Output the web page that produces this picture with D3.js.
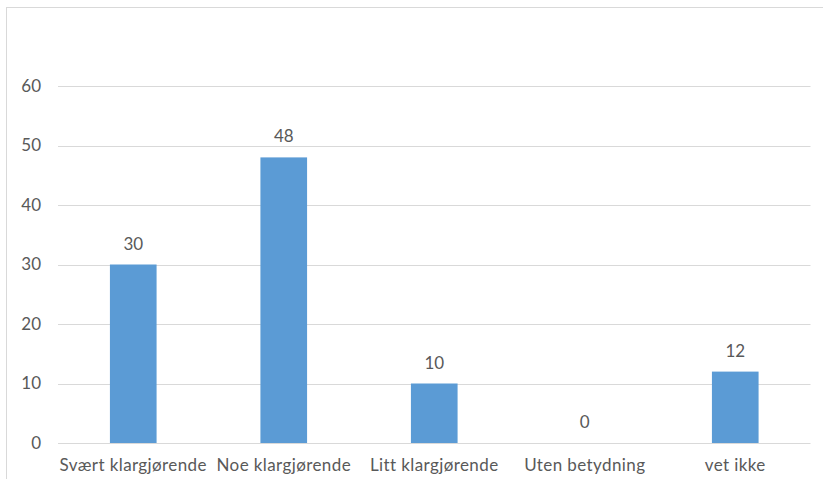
<!DOCTYPE html>
<html>
<head>
<meta charset="utf-8">
<script src="https://cdn.jsdelivr.net/npm/d3@7"></script>
<style>
  html, body { margin: 0; padding: 0; background: #fff; }
  svg { display: block; }
  text { font-family: Lato, "Open Sans", sans-serif; fill: #595959; }
</style>
</head>
<body>
<script>
// Answer categories and counts
const categories = ["Svært klargjørende", "Noe klargjørende", "Litt klargjørende", "Uten betydning", "vet ikke"];
const values = [30, 48, 10, 0, 12];
const yTicks = [0, 10, 20, 30, 40, 50, 60];

const W = 823, H = 479;
const margin = { left: 58, right: 12.5, top: 86, bottom: 36 };

const svg = d3.select("body").append("svg")
  .attr("width", W).attr("height", H);

// Chart frame
svg.append("rect")
  .attr("x", 6.5).attr("y", 7.5)
  .attr("width", W).attr("height", H)
  .attr("fill", "none").attr("stroke", "#d9d9d9").attr("stroke-width", 1);

const x = d3.scaleBand()
  .domain(categories)
  .range([margin.left, W - margin.right])
  .paddingInner(0.69).paddingOuter(0.345);

const y = d3.scaleLinear()
  .domain([0, 60])
  .range([H - margin.bottom, margin.top]);

// Horizontal gridlines
svg.append("g")
  .selectAll("line")
  .data(yTicks)
  .join("line")
  .attr("x1", margin.left).attr("x2", W - margin.right)
  .attr("y1", d => Math.round(y(d)) + 0.5).attr("y2", d => Math.round(y(d)) + 0.5)
  .attr("stroke", "#d9d9d9").attr("stroke-width", 1);

// Y axis labels
const yAxis = d3.axisLeft(y).tickValues(yTicks).tickSize(0).tickPadding(0);
const yg = svg.append("g")
  .attr("transform", `translate(${margin.left - 17},0)`)
  .call(yAxis);
yg.select(".domain").remove();
yg.selectAll("text")
  .attr("font-size", 17).attr("font-family", "Lato, sans-serif").attr("fill", "#595959");

// Bars
svg.append("g")
  .selectAll("rect")
  .data(values)
  .join("rect")
  .attr("x", (d, i) => x(categories[i]))
  .attr("width", x.bandwidth())
  .attr("y", d => y(d))
  .attr("height", d => y(0) - y(d))
  .attr("fill", "#5b9bd5");

// Value labels
svg.append("g")
  .selectAll("text")
  .data(values)
  .join("text")
  .attr("x", (d, i) => x(categories[i]) + x.bandwidth() / 2)
  .attr("y", d => y(d) - 15)
  .attr("text-anchor", "middle")
  .attr("font-size", 17)
  .text(d => d);

// X axis labels
const xAxis = d3.axisBottom(x).tickSize(0).tickPadding(0);
const xg = svg.append("g")
  .attr("transform", `translate(0,${y(0) + 16})`)
  .call(xAxis);
xg.select(".domain").remove();
xg.selectAll("text")
  .attr("font-size", 17).attr("letter-spacing", "0.4px")
  .attr("font-family", "Lato, sans-serif").attr("fill", "#595959");
</script>
</body>
</html>
